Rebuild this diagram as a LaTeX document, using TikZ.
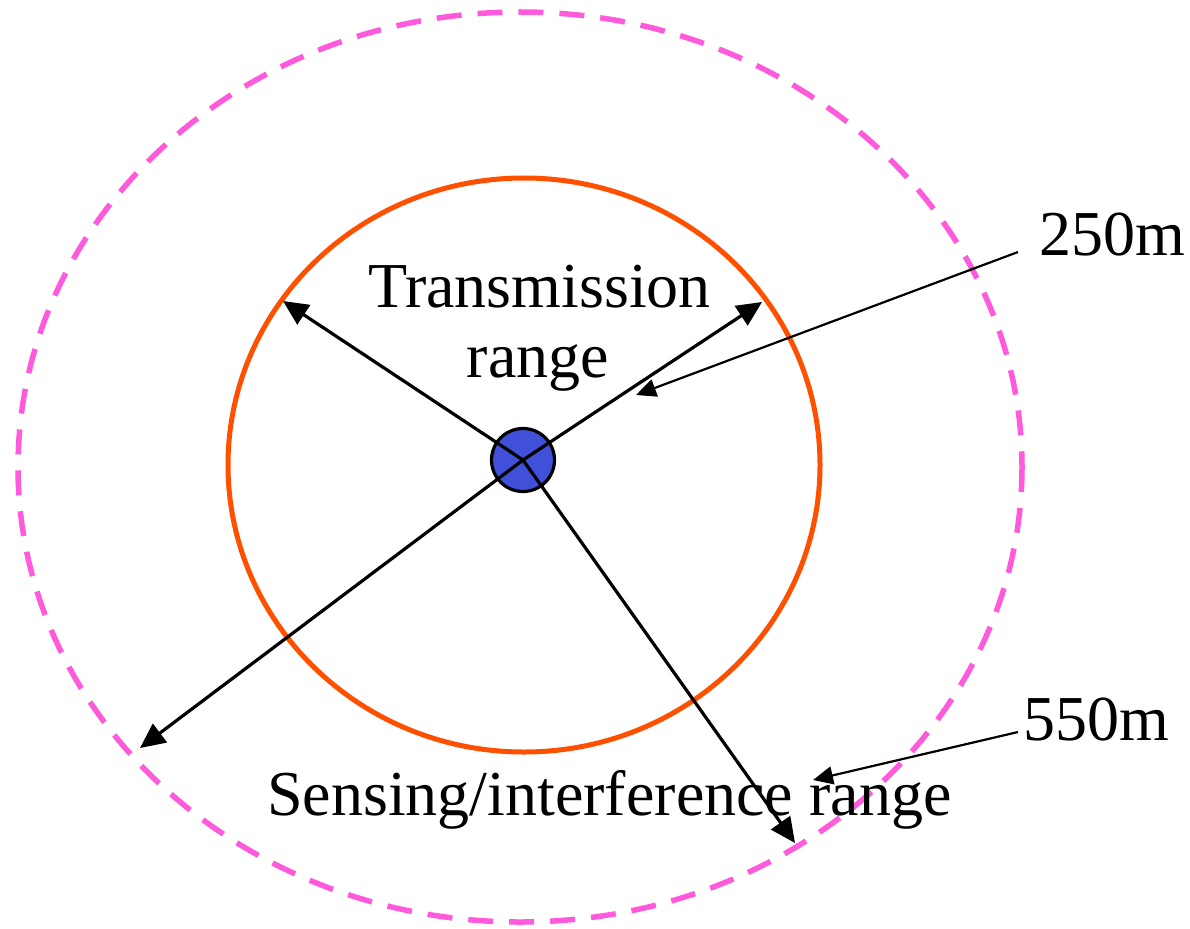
\documentclass[tikz,border=0pt]{standalone}
\usepackage{fontspec}
\setmainfont{Liberation Serif}
\usetikzlibrary{arrows.meta}
\definecolor{pinkc}{RGB}{255,90,220}
\definecolor{orangec}{RGB}{255,80,0}
\definecolor{bluec}{RGB}{64,80,216}
\tikzset{
  lbl/.style={inner sep=0pt, font=\fontsize{64}{72}\selectfont},
  radarrow/.style={line width=3.2pt, -{Triangle[length=25pt,width=23pt]}},
  callout/.style={line width=2.2pt, -{Triangle[length=20pt,width=18pt]}},
  sensing/.style={draw=pinkc, line width=5.5pt, dash pattern=on 25pt off 16pt},
  trans/.style={draw=orangec, line width=5pt},
  station/.style={circle, draw=black, line width=3.2pt, fill=bluec, minimum size=63pt, inner sep=0pt}
}
\begin{document}
\begin{tikzpicture}[x=1pt,y=-1pt]
\useasboundingbox (0,0) rectangle (1190,928);
\draw[sensing] (520,467) ellipse [x radius=502, y radius=455];
\draw[trans] (524,465) ellipse [x radius=296, y radius=287];
\node[station] (c) at (523,460) {};
\coordinate (ul) at (283,301);
\coordinate (ur) at (762,302);
\coordinate (ll) at (140,748);
\coordinate (lr) at (795,843);
\draw[radarrow] (c.center) -- (ul);
\draw[radarrow] (c.center) -- (ur);
\draw[radarrow] (c.center) -- (ll);
\draw[radarrow] (c.center) -- (lr);
\node[lbl, anchor=base] (t1) at (539.5,307) {Transmission};
\node[lbl, anchor=base] (t2) at (538,377) {range};
\node[lbl, anchor=base west] (s) at (267,815) {Sensing/interference range};
\node[lbl, anchor=base west] (l250) at (1039,255) {250m};
\node[lbl, anchor=base west] (l550) at (1023,740) {550m};
\coordinate (s250) at (1018,252);
\coordinate (e250) at (636,395);
\coordinate (s550) at (1018,732);
\coordinate (e550) at (813,780);
\draw[callout] (s250) -- (e250);
\draw[callout] (s550) -- (e550);
\end{tikzpicture}
\end{document}
